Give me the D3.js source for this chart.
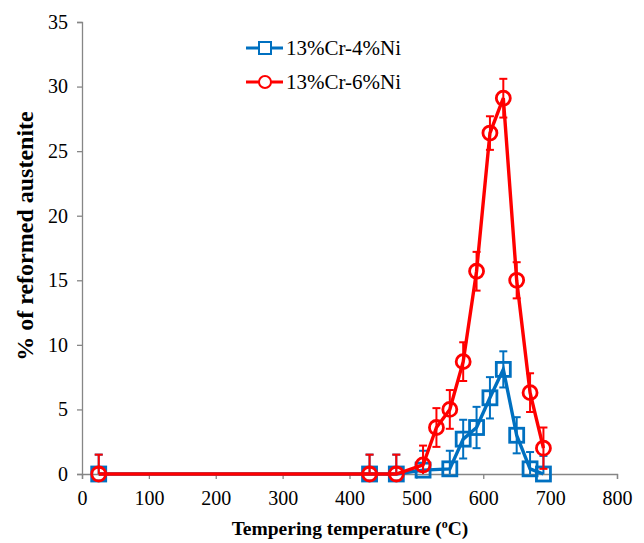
<!DOCTYPE html>
<html>
<head>
<meta charset="utf-8">
<script src="https://cdn.jsdelivr.net/npm/d3@7"></script>
<style>
  body { margin: 0; background: #fff; }
  text { font-family: "Liberation Serif", "Times New Roman", serif; }
</style>
</head>
<body>
<svg width="644" height="543"></svg>
<script>
// tempering temperatures (C)
var temp4 = [25, 430, 470, 510, 550, 570, 590, 610, 630, 650, 670, 690];
var val4  = [0, 0, 0, 0.3, 0.4, 2.7, 3.6, 5.9, 8.1, 3.0, 0.4, 0];
var err4  = [1.5, 1.5, 1.5, 1.5, 1.4, 1.5, 1.6, 1.6, 1.4, 1.4, 1.3, 1.4];

var temp6 = [25, 430, 470, 510, 530, 550, 570, 590, 610, 630, 650, 670, 690];
var val6  = [0, 0, 0, 0.7, 3.6, 5.0, 8.7, 15.7, 26.4, 29.1, 15.0, 6.3, 2.0];
var err6  = [1.5, 1.5, 1.5, 1.5, 1.5, 1.5, 1.5, 1.5, 1.3, 1.5, 1.4, 1.5, 1.6];

var xTicks = [0, 100, 200, 300, 400, 500, 600, 700, 800];
var yTicks = [0, 5, 10, 15, 20, 25, 30, 35];
var seriesNames = ["13%Cr-4%Ni", "13%Cr-6%Ni"];

var svg = d3.select("svg");
var x = d3.scaleLinear().domain([0, 800]).range([82, 617]);
var y = d3.scaleLinear().domain([0, 35]).range([474, 22]);
var axisColor = "#868686";

// axes
var gx = svg.append("g").attr("transform", "translate(0," + y(0) + ")")
    .call(d3.axisBottom(x).tickValues(xTicks).tickSize(5).tickPadding(12));
var gy = svg.append("g").attr("transform", "translate(" + x(0) + ",0)")
    .call(d3.axisLeft(y).tickValues(yTicks).tickSize(5).tickPadding(9));
[gx, gy].forEach(function(g){
    g.attr("font-family", null);
    g.select(".domain").attr("stroke", axisColor).attr("stroke-width", 1.3);
    g.selectAll(".tick line").attr("stroke", axisColor).attr("stroke-width", 1.3);
    g.selectAll(".tick text").attr("fill", "#000").style("font-size", "20px")
        .style("font-family", "'Liberation Serif', serif");
});

svg.append("text")
    .attr("x", 350).attr("y", 535)
    .attr("text-anchor", "middle")
    .style("font-size", "19.5px").style("font-weight", "bold")
    .text("Tempering temperature (")
    .append("tspan").attr("dy", -7).style("font-size", "12px").text("o")
    .select(function(){ return this.parentNode; })
    .append("tspan").attr("dy", 7).text("C)");

svg.append("text")
    .attr("transform", "translate(33,236) rotate(-90)")
    .attr("text-anchor", "middle")
    .style("font-size", "24px").style("font-weight", "bold")
    .text("% of reformed austenite");

svg.append("clipPath").attr("id", "plot")
    .append("rect").attr("x", 0).attr("y", 0).attr("width", 644).attr("height", y(0));

function drawSeries(temps, vals, errs, color, shape) {
    var pts = temps.map(function(t, i){ return {t: t, v: vals[i], e: errs[i]}; });
    var g = svg.append("g").attr("clip-path", "url(#plot)");
    // error bars
    var eb = g.selectAll(".eb").data(pts).enter().append("g");
    eb.append("line")
        .attr("x1", function(d){ return x(d.t); }).attr("x2", function(d){ return x(d.t); })
        .attr("y1", function(d){ return y(d.v - d.e); }).attr("y2", function(d){ return y(d.v + d.e); })
        .attr("stroke", color).attr("stroke-width", 2);
    [1, -1].forEach(function(s){
        eb.append("line")
            .attr("x1", function(d){ return x(d.t) - 4; }).attr("x2", function(d){ return x(d.t) + 4; })
            .attr("y1", function(d){ return y(d.v + s * d.e); }).attr("y2", function(d){ return y(d.v + s * d.e); })
            .attr("stroke", color).attr("stroke-width", 2);
    });
    var line = d3.line().x(function(d){ return x(d.t); }).y(function(d){ return y(d.v); });
    svg.append("path").datum(pts).attr("d", line)
        .attr("fill", "none").attr("stroke", color).attr("stroke-width", 3.4);
    var m = svg.append("g");
    if (shape === "square") {
        m.selectAll("rect").data(pts).enter().append("rect")
            .attr("x", function(d){ return x(d.t) - 7; }).attr("y", function(d){ return y(d.v) - 7; })
            .attr("width", 14).attr("height", 14)
            .attr("fill", "none").attr("stroke", color).attr("stroke-width", 2.8);
    } else {
        m.selectAll("circle").data(pts).enter().append("circle")
            .attr("cx", function(d){ return x(d.t); }).attr("cy", function(d){ return y(d.v); })
            .attr("r", 7).attr("fill", "none").attr("stroke", color).attr("stroke-width", 2.8);
    }
}

drawSeries(temp4, val4, err4, "#0070C0", "square");
drawSeries(temp6, val6, err6, "#FF0000", "circle");

// legend
var legend = svg.append("g");
var leg = [{name: seriesNames[0], color: "#0070C0", shape: "square", yy: 48},
           {name: seriesNames[1], color: "#FF0000", shape: "circle", yy: 82}];
leg.forEach(function(l){
    legend.append("line").attr("x1", 246).attr("x2", 283).attr("y1", l.yy).attr("y2", l.yy)
        .attr("stroke", l.color).attr("stroke-width", 3);
    if (l.shape === "square") {
        legend.append("rect").attr("x", 259).attr("y", l.yy - 6).attr("width", 12).attr("height", 12)
            .attr("fill", "#fff").attr("stroke", l.color).attr("stroke-width", 2);
    } else {
        legend.append("circle").attr("cx", 265).attr("cy", l.yy).attr("r", 6)
            .attr("fill", "#fff").attr("stroke", l.color).attr("stroke-width", 2);
    }
    legend.append("text").attr("x", 286).attr("y", l.yy + 7)
        .style("font-size", "21px").text(l.name);
});
</script>
</body>
</html>
